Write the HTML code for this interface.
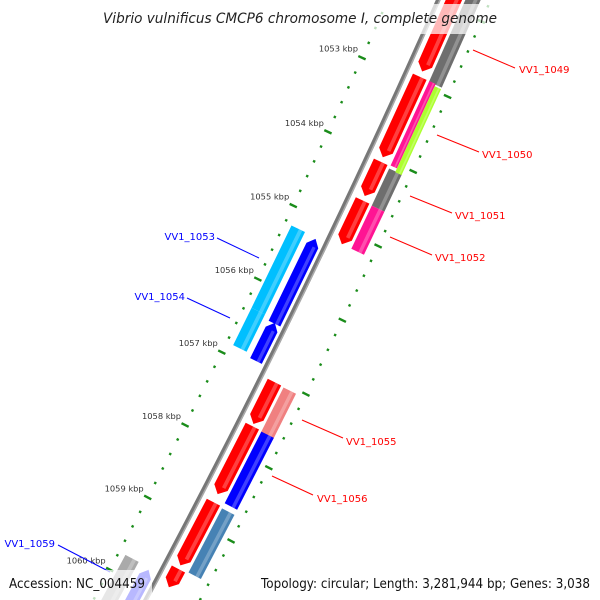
<!DOCTYPE html>
<html><head><meta charset="utf-8"><style>
html,body{margin:0;padding:0;background:#fff;width:600px;height:600px;overflow:hidden;}
svg{display:block;font-family:"DejaVu Sans","Liberation Sans",sans-serif;}
</style></head><body>
<svg id="map" width="600" height="600" viewBox="0 0 600 600" xmlns="http://www.w3.org/2000/svg">
<g id="ticks"></g>
<g id="backbone"></g>
<g id="genes"></g>
<g id="labels"></g>
<rect x="95" y="4" width="412" height="30" fill="#fff" opacity="0.72"/>
<text x="300" y="23" text-anchor="middle" font-size="14" font-style="italic" fill="#222" textLength="394" lengthAdjust="spacingAndGlyphs">Vibrio vulnificus CMCP6 chromosome I, complete genome</text>
<rect x="2" y="570" width="150" height="30" fill="#fff" opacity="0.72"/>
<text x="9" y="588" font-size="13" fill="#111" textLength="136" lengthAdjust="spacingAndGlyphs">Accession: NC_004459</text>
<rect x="255" y="570" width="345" height="30" fill="#fff" opacity="0.72"/>
<text x="261" y="588" font-size="13" fill="#111" textLength="329" lengthAdjust="spacingAndGlyphs">Topology: circular; Length: 3,281,944 bp; Genes: 3,038</text>
</svg>
<script>
// data (kbp positions)
const tickKbp = [1051,1052,1053,1054,1055,1056,1057,1058,1059,1060,1061];
const fwdStarts = [1051.3,1052.92,1054.06,1054.58,1057.04,1057.64,1058.68,1059.6];
const fwdEnds   = [1052.85,1054.0,1054.52,1055.17,1057.61,1058.57,1059.55,1059.85];
const ring2Starts = [1051.3,1054.09,1054.59,1057.05,1057.65,1058.7];
const ring2Ends   = [1052.93,1054.59,1055.17,1057.68,1058.63,1059.58];
const ring2Colors = ['#6e6e6e','#6e6e6e','#ff1493','#f08080','#0000ff','#4682b4'];
const splitStarts = [1052.92,1052.95];
const splitEnds   = [1054.05,1054.1];
const splitColors = ['#ff1493','#adff2f'];
const cyanStarts = [1055.23,1056.35,1059.75];
const cyanEnds   = [1056.35,1056.86,1060.6];
const cyanColors = ['#00bfff','#00bfff','#aaaaaa'];
const revStarts = [1055.25,1056.39,1059.78];
const revEnds   = [1056.4,1056.91,1060.6];
const labelTexts = ['VV1_1049','VV1_1050','VV1_1051','VV1_1052','VV1_1055','VV1_1056','VV1_1053','VV1_1054','VV1_1059'];

const NS='http://www.w3.org/2000/svg';
const H=-7788,K=-3641;
function ang(kbp){return (24.41+0.522*(kbp-1053))*Math.PI/180;}
function pt(kbp,r){const a=ang(kbp);return [H+r*Math.cos(a),K+r*Math.sin(a)];}
function mk(tag,attrs,parent){const e=document.createElementNS(NS,tag);for(const k in attrs)e.setAttribute(k,attrs[k]);parent.appendChild(e);return e;}
function poly(pts){return pts.map(p=>p[0].toFixed(2)+','+p[1].toFixed(2)).join(' ');}

// ticks
const tg=document.getElementById('ticks');
for(let i=0;i<tickKbp.length-1;i++){
  for(let j=0;j<5;j++){
    const kb=tickKbp[i]+j*0.2;
    [8950,9044].forEach(r=>{
      const len=j===0?4:1.2;
      const a=pt(kb,r-len),b=pt(kb,r+len);
      const t=mk('line',{x1:a[0],y1:a[1],x2:b[0],y2:b[1],stroke:'#1a8c1a','stroke-width':j===0?2.4:2.4},tg);
      
      
    });
  }
  const p=pt(tickKbp[i],8950);
  const tl=mk('text',{x:p[0]-4,y:p[1]-6,'text-anchor':'end','font-size':'8.3',fill:'#333'},tg);
  tl.textContent=tickKbp[i]+' kbp';
  
  
}

// backbone
const bg=document.getElementById('backbone');
let bpts=[];for(let kb=1050.5;kb<=1061;kb+=0.1)bpts.push(pt(kb,8996));
const bb1=mk('polyline',{points:poly(bpts),fill:'none',stroke:'#777','stroke-width':4.5},bg);


let bpts2=[];for(let kb=1050.5;kb<=1061;kb+=0.1)bpts2.push(pt(kb,8997.5));
const bb2=mk('polyline',{points:poly(bpts2),fill:'none',stroke:'#aaa','stroke-width':1.5},bg);



const gg=document.getElementById('genes');
function box(s,e,r0,r1,color,name,arrow){
  const head=0.09;let pts;
  const rm=(r0+r1)/2;
  if(arrow==='fwd'){pts=[pt(s,r0),pt(s,r1),pt(e-head,r1),pt(e,rm),pt(e-head,r0)];}
  else if(arrow==='rev'){pts=[pt(s+head,r0),pt(s,rm),pt(s+head,r1),pt(e,r1),pt(e,r0)];}
  else pts=[pt(s,r0),pt(s,r1),pt(e,r1),pt(e,r0)];
  const g=mk('polygon',{points:poly(pts),fill:color},gg);
  
  
  const ra=r0+(r1-r0)*0.55,rb=r0+(r1-r0)*0.8;
  let hp;
  if(arrow==='fwd')hp=[pt(s,ra),pt(s,rb),pt(e-head*1.1,rb),pt(e-head*1.1,ra)];
  else if(arrow==='rev')hp=[pt(s+head*1.1,ra),pt(s+head*1.1,rb),pt(e,rb),pt(e,ra)];
  else hp=[pt(s,ra),pt(s,rb),pt(e,rb),pt(e,ra)];
  const h=mk('polygon',{points:poly(hp),fill:'#fff',opacity:0.25},gg);
  
  
}
for(let i=0;i<fwdStarts.length;i++)box(fwdStarts[i],fwdEnds[i],9003,9018,'#ff0000','forward-gene','fwd');
for(let i=0;i<ring2Starts.length;i++)box(ring2Starts[i],ring2Ends[i],9021,9035,ring2Colors[i],'outer-gene',null);
box(splitStarts[0],splitEnds[0],9021,9028,splitColors[0],'outer-gene',null);
box(splitStarts[1],splitEnds[1],9028,9035,splitColors[1],'outer-gene',null);
for(let i=0;i<cyanStarts.length;i++)box(cyanStarts[i],cyanEnds[i],8957,8972,cyanColors[i],'inner-gene',null);
for(let i=0;i<revStarts.length;i++)box(revStarts[i],revEnds[i],8978,8991,'#0000ff','reverse-gene','rev');

// labels
const lg=document.getElementById('labels');
const lab=[
 [473,50,515,68,519,73,'start','#f00'],
 [437,135,479,152,482,158,'start','#f00'],
 [410,196,452,213,455,219,'start','#f00'],
 [390,237,432,255,435,261,'start','#f00'],
 [302,420,343,438,346,445,'start','#f00'],
 [272,476,313,495,317,502,'start','#f00'],
 [259,258,217,238,215,240,'end','#00f'],
 [230,318,187,298,185,300,'end','#00f'],
 [110,572,58,545,55,547,'end','#00f']
];
lab.forEach((l,i)=>{
  const ln=mk('line',{x1:l[0],y1:l[1],x2:l[2],y2:l[3],stroke:l[7],'stroke-width':1},lg);
  
  
  const t=mk('text',{x:l[4],y:l[5],'text-anchor':l[6],'font-size':'10',fill:l[7]},lg);
  t.textContent=labelTexts[i];
  
  
});
</script>
</body></html>
